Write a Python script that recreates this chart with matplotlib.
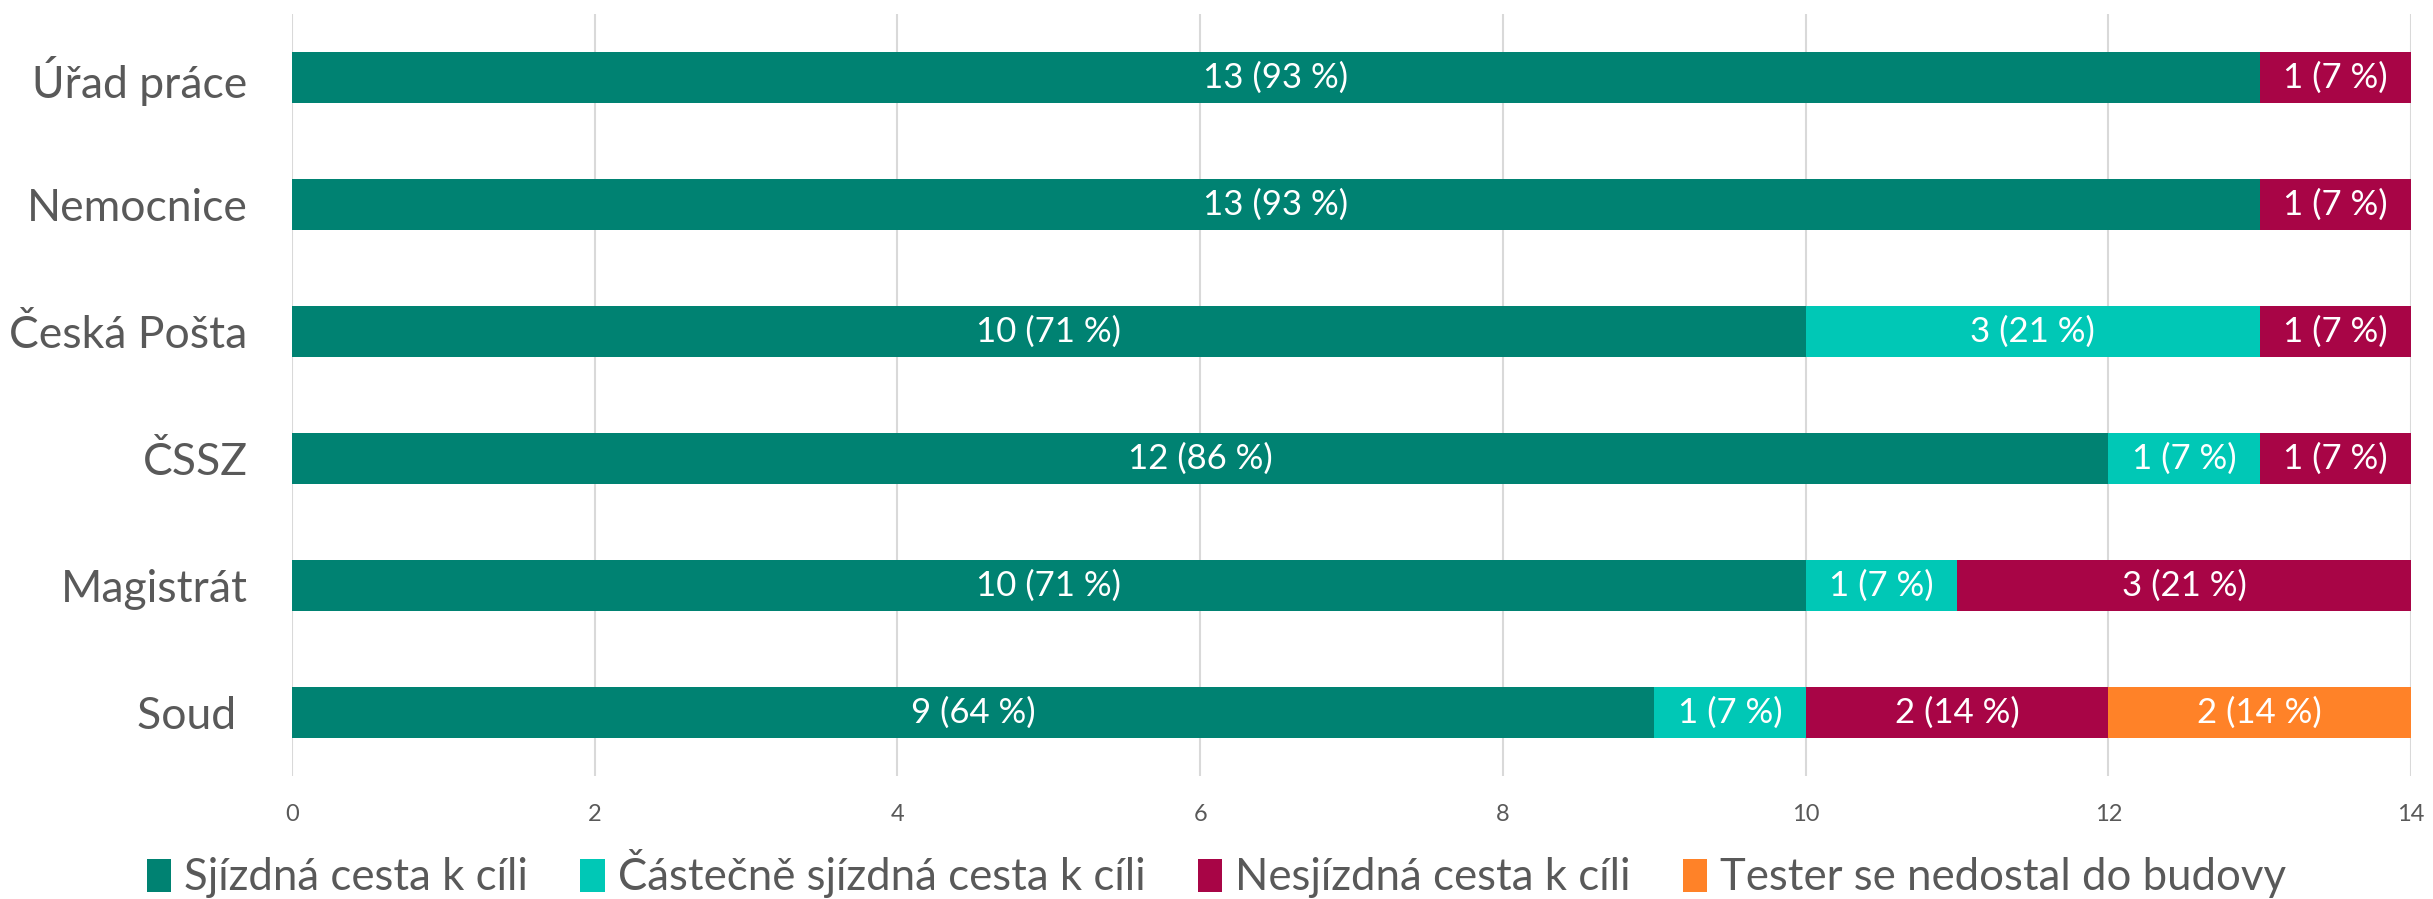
import matplotlib
matplotlib.use("Agg")
import matplotlib.pyplot as plt
from matplotlib.patches import Patch

plt.rcParams['font.family'] = ['Lato', 'DejaVu Sans']

urady = ["Úřad práce", "Nemocnice", "Česká Pošta", "ČSSZ", "Magistrát", "Soud "]
sjizdna = [13, 13, 10, 12, 10, 9]
castecne = [0, 0, 3, 1, 1, 1]
nesjizdna = [1, 1, 1, 1, 3, 2]
nedostal = [0, 0, 0, 0, 0, 2]
celkem = 14

serie = [
    ("Sjízdná cesta k cíli", sjizdna, "#008272"),
    ("Částečně sjízdná cesta k cíli", castecne, "#00C8B6"),
    ("Nesjízdná cesta k cíli", nesjizdna, "#A80546"),
    ("Tester se nedostal do budovy", nedostal, "#FF8228"),
]

fig = plt.figure(figsize=(24.33, 8.99), dpi=100)
ax = fig.add_axes([292 / 2433, 1 - 776 / 899, (2411 - 292) / 2433, (776 - 14) / 899])

y = list(range(len(urady)))
left = [0] * len(urady)
for nazev, hodnoty, barva in serie:
    bars = ax.barh(y, hodnoty, left=left, height=0.4, color=barva, label=nazev)
    for b, v in zip(bars, hodnoty):
        if v > 0:
            ax.text(b.get_x() + b.get_width() / 2, b.get_y() + b.get_height() / 2,
                    f"{v} ({round(v / celkem * 100)} %)", ha="center", va="center",
                    color="white", fontsize=25)
    left = [l + v for l, v in zip(left, hodnoty)]

ax.set_xlim(0, 14)
ax.set_ylim(len(urady) - 0.5, -0.5)
ax.set_xticks(range(0, 15, 2))
ax.set_yticks(y)
ax.set_yticklabels(urady, fontsize=32, color="#595959")
ax.tick_params(axis="y", length=0, pad=32)
ax.tick_params(axis="x", length=0, labelsize=17, labelcolor="#595959", pad=20)
ax.grid(axis="x", color="#D9D9D9", linewidth=1.5)
ax.set_axisbelow(True)
for s in ax.spines.values():
    s.set_visible(False)

handles = [Patch(facecolor=c, label=n) for n, _, c in serie]
fig.legend(handles=handles, loc="center", bbox_to_anchor=(0.5, 1 - 874 / 899), ncol=4,
           frameon=False, fontsize=31.5, labelcolor="#595959", handlelength=0.55,
           handleheight=0.8, handletextpad=0.3, columnspacing=1.2)

fig.savefig("out.png", dpi=100)
